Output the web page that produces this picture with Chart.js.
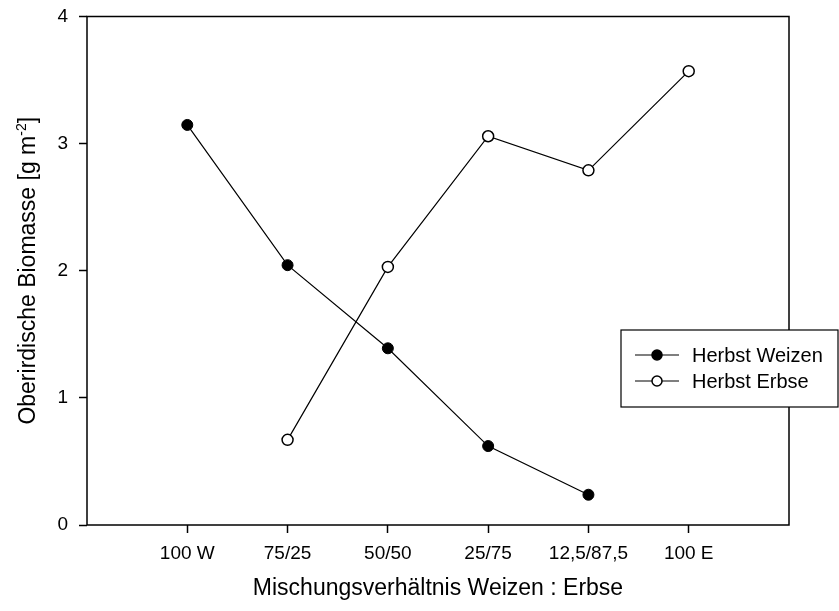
<!DOCTYPE html>
<html>
<head>
<meta charset="utf-8">
<script src="https://cdn.jsdelivr.net/npm/chart.js@4/dist/chart.umd.min.js"></script>
<style>
  html, body { margin: 0; padding: 0; background: #fff; }
  #wrap { width: 839px; height: 611px; }
</style>
</head>
<body>
<div id="wrap"><canvas id="biomasseChart"></canvas></div>
<script>
const ctx = document.getElementById('biomasseChart');

//Prepare data
var categories = ['100 W', '75/25', '50/50', '25/75', '12,5/87,5', '100 E'];
var weizen = [3.147, 2.044, 1.39, 0.621, 0.238, null];
var erbse = [null, 0.67, 2.03, 3.058, 2.79, 3.57];
var yTicks = [0, 1, 2, 3, 4];
var seriesNames = ['Herbst Weizen', 'Herbst Erbse'];

function toPoints(values) {
    var pts = [];
    values.forEach(function (v, i) {
        if (v !== null) pts.push({ x: i, y: v });
    });
    return pts;
}

var family = '"Liberation Sans", Arial, sans-serif';

//Frame around the plot area, y title with superscript, legend box
var framePlugin = {
    id: 'frame',
    afterDraw: function (chart) {
        var c = chart.ctx, a = chart.chartArea;
        c.save();
        c.strokeStyle = '#000';
        c.lineWidth = 1.5;
        c.strokeRect(a.left, a.top, a.right - a.left, a.bottom - a.top);

        //y axis title: Oberirdische Biomasse [g m^-2]
        var main = 'Oberirdische Biomasse [g m', sup = '-2', end = ']';
        c.save();
        c.translate(35, (a.top + a.bottom) / 2);
        c.rotate(-Math.PI / 2);
        c.fillStyle = '#000';
        c.textBaseline = 'alphabetic';
        c.font = '23px ' + family;
        var w1 = c.measureText(main).width, w3 = c.measureText(end).width;
        c.font = '14px ' + family;
        var w2 = c.measureText(sup).width;
        var x0 = -(w1 + w2 + w3) / 2;
        c.font = '23px ' + family;
        c.fillText(main, x0, 0);
        c.font = '14px ' + family;
        c.fillText(sup, x0 + w1, -9);
        c.font = '23px ' + family;
        c.fillText(end, x0 + w1 + w2, 0);
        c.restore();

        //legend
        c.fillStyle = '#fff';
        c.fillRect(621, 330, 217, 77);
        c.lineWidth = 1.2;
        c.strokeRect(621, 330, 217, 77);
        var fills = ['#000', '#fff'];
        c.font = '20px ' + family;
        c.textBaseline = 'middle';
        seriesNames.forEach(function (name, i) {
            var y = 355 + i * 26;
            c.beginPath();
            c.lineWidth = 1.2;
            c.moveTo(635, y);
            c.lineTo(679, y);
            c.stroke();
            c.beginPath();
            c.arc(657, y, 5, 0, Math.PI * 2);
            c.fillStyle = fills[i];
            c.fill();
            c.lineWidth = 1.5;
            c.stroke();
            c.fillStyle = '#000';
            c.fillText(name, 692, y + 1);
        });
        c.restore();
    }
};

//Create chart
new Chart(ctx, {
    type: 'line',
    data: {
        datasets: [
            {
                label: seriesNames[0],
                data: toPoints(weizen),
                borderColor: '#000',
                borderWidth: 1.2,
                pointRadius: 5.5,
                pointBorderWidth: 1,
                pointBorderColor: '#000',
                pointBackgroundColor: '#000',
                tension: 0
            },
            {
                label: seriesNames[1],
                data: toPoints(erbse),
                borderColor: '#000',
                borderWidth: 1.2,
                pointRadius: 5.5,
                pointBorderWidth: 1.5,
                pointBorderColor: '#000',
                pointBackgroundColor: '#fff',
                tension: 0
            }
        ]
    },
    options: {
        responsive: true,
        maintainAspectRatio: false,
        animation: false,
        layout: { padding: { top: 16.5, right: 50, left: 0, bottom: 0 } },
        plugins: {
            legend: { display: false },
            tooltip: { enabled: false }
        },
        scales: {
            x: {
                type: 'linear',
                min: -1,
                max: 6,
                afterBuildTicks: function (axis) {
                    axis.ticks = categories.map(function (c, i) { return { value: i }; });
                },
                afterFit: function (axis) {
                    axis.height = 86;
                    axis.paddingLeft = 0;
                    axis.paddingRight = 0;
                },
                ticks: {
                    color: '#000',
                    font: { family: family, size: 19 },
                    padding: 9,
                    maxRotation: 0,
                    autoSkip: false,
                    callback: function (v) { return categories[v]; }
                },
                grid: {
                    drawOnChartArea: false,
                    drawTicks: true,
                    tickLength: 8,
                    tickWidth: 1.5,
                    tickColor: '#000'
                },
                border: { display: false },
                title: {
                    display: true,
                    text: 'Mischungsverhältnis Weizen : Erbse',
                    color: '#000',
                    font: { family: family, size: 23 },
                    padding: { top: 4, bottom: 9 }
                }
            },
            y: {
                min: 0,
                max: 4,
                afterBuildTicks: function (axis) {
                    axis.ticks = yTicks.map(function (v) { return { value: v }; });
                },
                afterFit: function (axis) {
                    axis.width = 87;
                    axis.paddingTop = 0;
                    axis.paddingBottom = 0;
                },
                ticks: {
                    color: '#000',
                    font: { family: family, size: 19 },
                    padding: 11
                },
                grid: {
                    drawOnChartArea: false,
                    drawTicks: true,
                    tickLength: 8,
                    tickWidth: 1.5,
                    tickColor: '#000'
                },
                border: { display: false }
            }
        }
    },
    plugins: [framePlugin]
});
</script>
</body>
</html>
